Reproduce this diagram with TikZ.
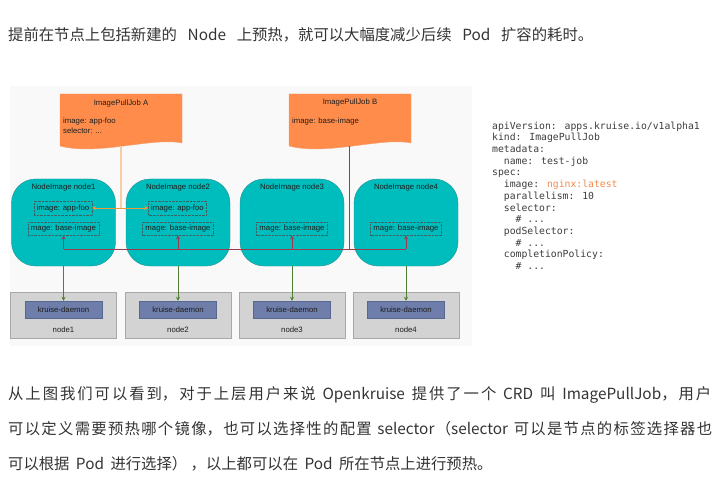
\documentclass[tikz,border=0pt]{standalone}
\usepackage{fontspec}
\setmainfont{Liberation Sans}
\newfontfamily\cjk{Noto Sans CJK SC}
\newfontfamily\codefont{DejaVu Sans Mono}
\XeTeXlinebreaklocale "zh"
\XeTeXlinebreakskip=0pt plus 1pt
\usepackage{tikz}
\usetikzlibrary{positioning,arrows.meta}
\usepackage{xcolor}
\definecolor{txt}{HTML}{333333}
\definecolor{lbl}{HTML}{1E1E1E}
\definecolor{diagbg}{HTML}{F9F9F9}
\definecolor{jobfill}{HTML}{FF8C4B}
\definecolor{jobedge}{HTML}{F2A273}
\definecolor{nifill}{HTML}{00BDBD}
\definecolor{niedge}{HTML}{2A8E8E}
\definecolor{dotgray}{HTML}{3A6464}
\definecolor{hostfill}{HTML}{D3D3D3}
\definecolor{hostedge}{HTML}{A8A8A8}
\definecolor{daemonfill}{HTML}{6E7DA9}
\definecolor{daemonedge}{HTML}{58678F}
\definecolor{busred}{HTML}{9A3C4E}
\definecolor{peachline}{HTML}{F6CDA8}
\definecolor{linkora}{HTML}{EE9A3A}
\definecolor{dgreen}{HTML}{4E7F34}
\definecolor{codegray}{HTML}{3C3C3C}
\definecolor{nginxora}{HTML}{F08A4B}

\begin{document}
\begin{tikzpicture}[x=1bp,y=-1bp,>={Stealth[length=4bp,width=4bp]},
  every node/.style={font=\fontsize{7.8}{9.5}\selectfont,text=lbl},
  job/.style={inner sep=0,minimum width=122bp,minimum height=52bp},
  ni/.style={draw=niedge,fill=nifill,rounded corners=24bp,minimum width=104bp,minimum height=87bp,inner sep=0},
  img/.style={draw=dotgray,densely dotted,inner sep=0,minimum height=13.5bp},
  host/.style={draw=hostedge,fill=hostfill,minimum width=106bp,minimum height=46bp,inner sep=0},
  daemon/.style={draw=daemonedge,fill=daemonfill,minimum width=77bp,minimum height=17bp,inner sep=0},
  busline/.style={busred,line width=0.8bp},
  para/.style={font=\cjk\fontsize{15.4}{20}\selectfont,text=txt,inner sep=0,anchor=base west},
  yaml/.style={font=\codefont\fontsize{9.8}{11.75}\selectfont,text=codegray,align=left,inner sep=0,anchor=north west}]
\useasboundingbox (0,0) rectangle (728,485);

% text above the figure
\node[para] (intro) at (8,41) {\makebox[585bp][s]{提前在节点上包括新建的 Node 上预热，就可以大幅度减少后续 Pod 扩容的耗时。}};

% diagram
\fill[diagbg] (10,86) rectangle (472,346);

\fill[jobfill,draw=jobedge,line width=0.4bp] (60,94) -- (182,94) -- (182,143) .. controls (152,137) and (98,156) .. (60,146) -- cycle;
\fill[jobfill,draw=jobedge,line width=0.4bp] (289,94) -- (411,94) -- (411,143) .. controls (381,137) and (327,156) .. (289,146) -- cycle;
\node[job] (jobA) at (121,120) {};
\node[job] (jobB) at (349.5,120) {};
\node (jobAt) at (121,103) {ImagePullJob A};
\node[anchor=west,align=left,inner sep=0] (jobAd) at (63,125.5) {image: app-foo\\selector: ...};
\node (jobBt) at (350,102) {ImagePullJob B};
\node[anchor=west,inner sep=0] (jobBd) at (292,121) {image: base-image};

\foreach \i/\x in {1/63.5,2/178,3/292,4/406}{
  \node[ni] (ni\i) at (\x,222.5) {};
  \node (nit\i) at (\x,187) {NodeImage node\i};
  \node[img,minimum width=71bp] (b\i) at (\x,228.5) {mage: base-image};
  \node[host] (h\i) at (\x,315) {};
  \node[daemon] (d\i) at (\x,309.5) {kruise-daemon};
  \node (hn\i) at (\x,330) {node\i};
  \draw[->,dgreen,line width=0.7bp] (ni\i.south) -- (d\i.north);
}
\node[img,minimum width=58bp] (a1) at (63,208) {image: app-foo};
\node[img,minimum width=58bp] (a2) at (177.5,208) {image: app-foo};

% ImagePullJob A
\draw[peachline,line width=1.6bp] (jobA.south) -- (jobA.south |- a1.east);
\draw[<->,linkora,line width=0.8bp] (a1.east) -- (a2.west);

% ImagePullJob B
\coordinate (busy) at (0,249);
\draw[busline] (jobB.south) -- (jobB.south |- busy);
\draw[busline] (b1.south |- busy) -- (b4.south |- busy);
\foreach \i in {1,...,4}
  \draw[busline,->] (b\i.south |- busy) -- (b\i.south);

% yaml
\node[yaml] (spec) at (492,121.5) {apiVersion: apps.kruise.io/v1alpha1\\
kind: ImagePullJob\\
metadata:\\
\phantom{xx}name: test-job\\
spec:\\
\phantom{xx}image: \textcolor{nginxora}{nginx:latest}\\
\phantom{xx}parallelism: 10\\
\phantom{xx}selector:\\
\phantom{xxxx}\# ...\\
\phantom{xx}podSelector:\\
\phantom{xxxx}\# ...\\
\phantom{xx}completionPolicy:\\
\phantom{xxxx}\# ...};

% text below the figure
\node[para] (p1) at (8,399) {\parbox[t]{703bp}{\parfillskip=0pt\noindent 从上图我们可以看到，对于上层用户来说 Openkruise 提供了一个 CRD 叫 ImagePullJob，用户}};
\node[para] (p2) at (8,434) {\parbox[t]{704bp}{\parfillskip=0pt\noindent 可以定义需要预热哪个镜像，也可以选择性的配置 selector（selector 可以是节点的标签选择器也}};
\node[para] (p3) at (8,469) {可以根据 \hspace{3bp}Pod \hspace{3bp}进行选择） ，以上都可以在 \hspace{3bp}Pod \hspace{3bp}所在节点上进行预热。};
\end{tikzpicture}
\end{document}
